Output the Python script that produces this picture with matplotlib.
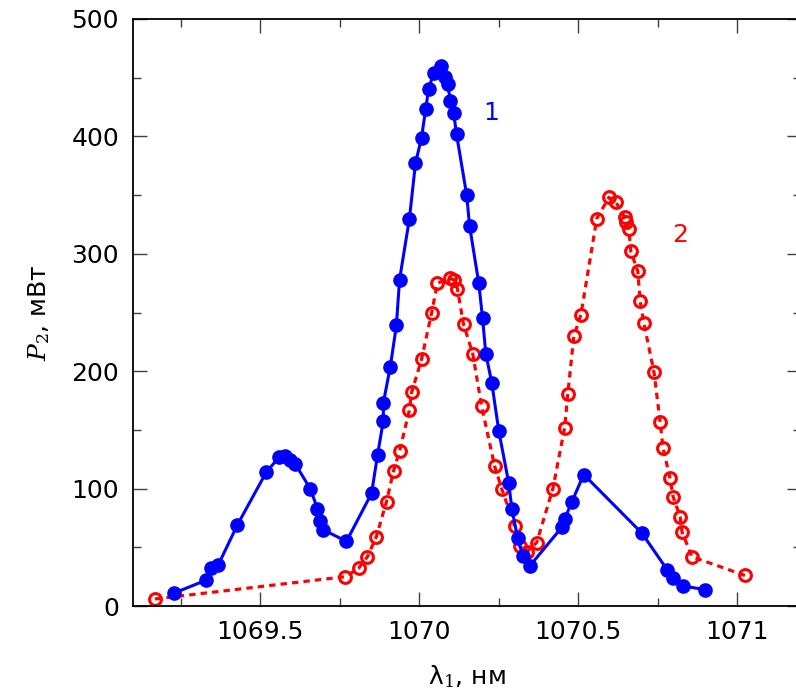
import numpy as np
import matplotlib
matplotlib.use("Agg")
import matplotlib.pyplot as plt
from matplotlib.ticker import MultipleLocator, FormatStrFormatter, FuncFormatter

# series 1 (blue, filled circles)
wl1 = [1069.229, 1069.330, 1069.346, 1069.368, 1069.428, 1069.519, 1069.560, 1069.579,
       1069.594, 1069.610, 1069.657, 1069.680, 1069.689, 1069.698, 1069.771, 1069.850,
       1069.869, 1069.887, 1069.887, 1069.909, 1069.928, 1069.938, 1069.969, 1069.988,
       1070.007, 1070.020, 1070.029, 1070.045, 1070.067, 1070.080, 1070.089, 1070.098,
       1070.108, 1070.117, 1070.149, 1070.158, 1070.187, 1070.199, 1070.209, 1070.228,
       1070.250, 1070.281, 1070.291, 1070.309, 1070.325, 1070.347, 1070.448, 1070.457,
       1070.480, 1070.517, 1070.700, 1070.779, 1070.798, 1070.829, 1070.898]
p1 = [11, 22, 32, 35, 69, 114, 127, 128,
      124, 121, 100, 83, 72, 65, 55, 96,
      129, 158, 173, 204, 239, 278, 330, 377,
      399, 423, 440, 454, 460, 451, 445, 430,
      420, 402, 350, 324, 275, 245, 215, 190,
      149, 105, 83, 58, 43, 34, 67, 74,
      89, 112, 62, 31, 24, 17, 14]

# series 2 (red, open circles)
wl2 = [1069.169, 1069.768, 1069.809, 1069.837, 1069.865, 1069.897, 1069.919, 1069.938,
       1069.969, 1069.976, 1070.007, 1070.039, 1070.057, 1070.095, 1070.108, 1070.120,
       1070.139, 1070.168, 1070.196, 1070.237, 1070.259, 1070.300, 1070.316, 1070.338,
       1070.369, 1070.420, 1070.457, 1070.467, 1070.486, 1070.508, 1070.558, 1070.596,
       1070.618, 1070.646, 1070.650, 1070.659, 1070.665, 1070.687, 1070.694, 1070.706,
       1070.738, 1070.757, 1070.766, 1070.788, 1070.798, 1070.820, 1070.826, 1070.857,
       1071.024]
p2 = [6, 25, 32, 42, 59, 89, 115, 132,
      167, 182, 210, 250, 275, 279, 278, 270,
      240, 215, 170, 119, 100, 68, 51, 46,
      54, 100, 152, 181, 230, 248, 330, 348,
      344, 331, 327, 321, 302, 285, 260, 241,
      199, 157, 135, 109, 93, 76, 63, 42,
      26]

plt.rcParams['font.family'] = 'DejaVu Sans'
plt.rcParams['mathtext.fontset'] = 'dejavuserif'

fig = plt.figure(figsize=(7.96, 6.99), dpi=100)
ax = fig.add_axes([133/796, 93/699, 668/796, 587/699])

ax.plot(wl2, p2, color='#ff0000', ls=(0, (2, 1.6)), lw=2.3, marker='o', ms=8.5,
        mfc='none', mec='#ff0000', mew=2.2, zorder=2)
ax.plot(wl1, p1, color='#0000ff', ls='-', lw=2.2, marker='o', ms=9.5,
        mfc='#0000ff', mec='#0000ff', zorder=3)

ax.text(1070.225, 420, '1', color='#0000ff', fontsize=18, ha='center', va='center')
ax.text(1070.82, 316, '2', color='#ff0000', fontsize=18, ha='center', va='center')

ax.set_xlim(1069.1, 1071.2)
ax.set_ylim(0, 500)
ax.xaxis.set_major_locator(MultipleLocator(0.5))
ax.xaxis.set_minor_locator(MultipleLocator(0.25))
ax.yaxis.set_major_locator(MultipleLocator(100))
ax.yaxis.set_minor_locator(MultipleLocator(50))
ax.xaxis.set_major_formatter(FuncFormatter(lambda v, pos: '%g' % round(v, 2)))
ax.tick_params(which='both', direction='in', top=True, right=True, labelsize=18,
               color='0.25', width=1.0)
ax.tick_params(which='major', length=10, pad=10)
ax.tick_params(which='minor', length=6)
for s in ax.spines.values():
    s.set_linewidth(1.3)

ax.set_xlabel(r'λ$_1$, нм', fontsize=18, labelpad=14)
ax.set_ylabel(r'$P_2$, мВт', fontsize=18, labelpad=14)

fig.savefig('out.png', dpi=100)
